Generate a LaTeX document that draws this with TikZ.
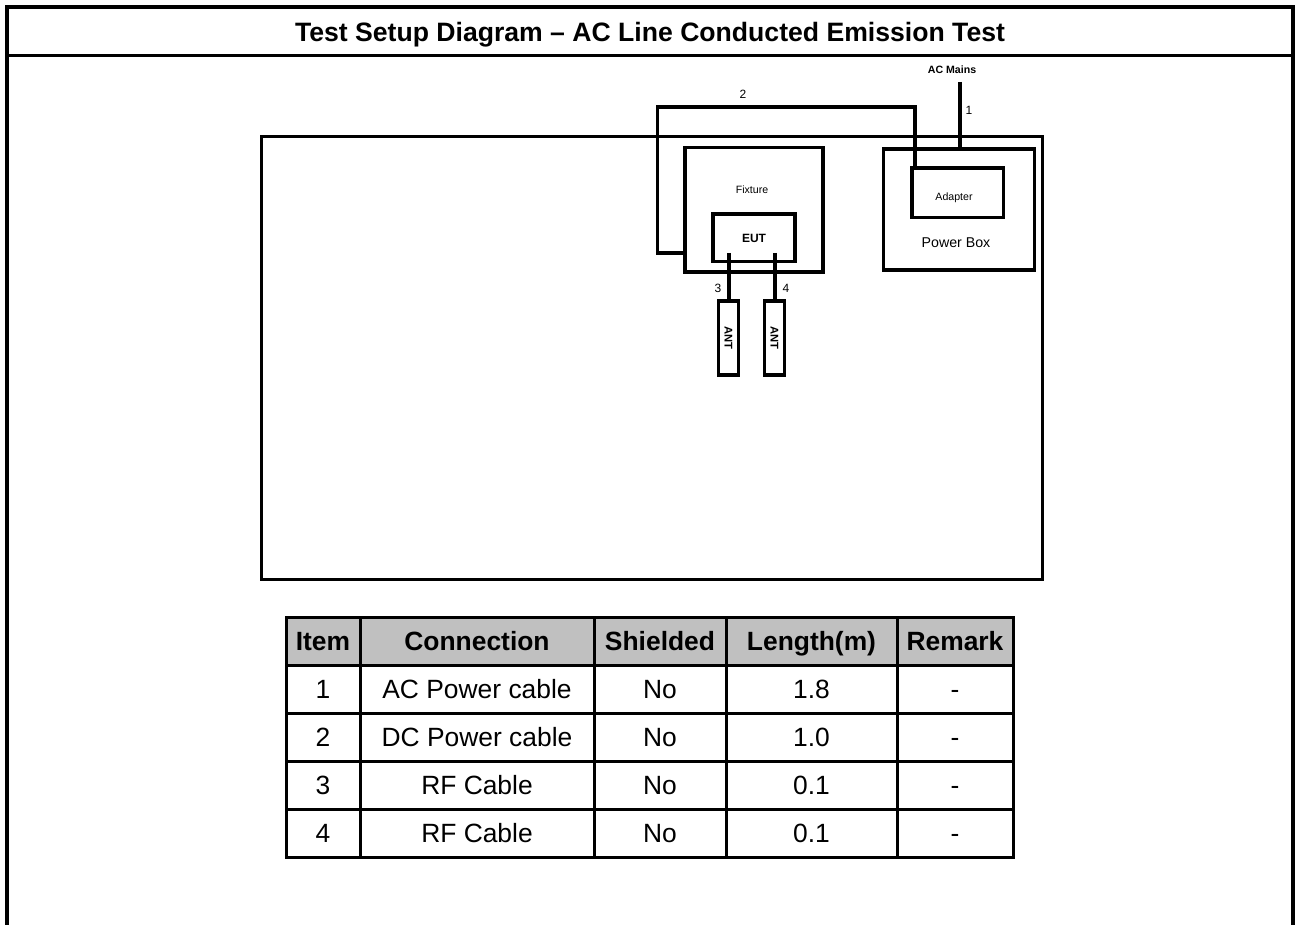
\documentclass[tikz,border=0pt]{standalone}
\usepackage{fontspec}
\setmainfont{Liberation Sans}
\usepackage{tikz}
\usetikzlibrary{calc}
\definecolor{hdrgray}{RGB}{192,192,192}

\begin{document}
\begin{tikzpicture}[x=0.5pt, y=-0.5pt,
 frame/.style={line width=2pt, line cap=rect},
 box/.style={draw, line width=1.8pt, inner sep=0pt},
 cable/.style={line width=1.8pt},
 grid/.style={line width=1.5pt, line cap=rect},
 lbl/.style={inner sep=0pt, font=\fontsize{5.3}{6}\selectfont},
 num/.style={inner sep=0pt, font=\fontsize{6}{7}\selectfont},
 cell/.style={inner sep=0pt, anchor=base, font=\fontsize{13.2}{15}\selectfont},
 head/.style={cell, font=\fontsize{13.2}{15}\selectfont\bfseries}]
 \useasboundingbox (0,0) rectangle (1295,925);

 % outer frame and title
 \draw[frame] (7,925) -- (7,7) -- (1292.5,7) -- (1292.5,925);
 \draw[line width=1.5pt] (7,55.5) -- (1292.5,55.5);
 \node[inner sep=0pt, anchor=base, font=\fontsize{13.3}{16}\selectfont\bfseries] (title) at (650,41.5)
  {Test Setup Diagram – AC Line Conducted Emission Test};

 % bench and equipment
 \node[box, minimum width=390.5pt, minimum height=221.5pt] (bench) at (652,358) {};
 \node[box, minimum width=69pt, minimum height=62.3pt] (fixture) at (754,210) {};
 \node[lbl] (fixlbl) at (752,190) {Fixture};
 \node[box, minimum width=40.8pt, minimum height=23.7pt, font=\fontsize{6}{7}\selectfont\bfseries] (eut) at (754,238) {EUT};
 \node[box, minimum width=75.5pt, minimum height=60.5pt] (pbox) at (958.8,209.5) {};
 \node[inner sep=0pt, font=\fontsize{7.1}{8}\selectfont] (pboxlbl) at (956,243) {Power Box};
 \node[box, minimum width=45.8pt, minimum height=24.7pt] (adapter) at (957.5,193) {};
 \node[lbl] (adlbl) at (954,198) {Adapter};
 \node[box, minimum width=10pt, minimum height=37pt] (ant3) at (728.5,338) {};
 \node[box, minimum width=10pt, minimum height=37pt] (ant4) at (774.5,338) {};
 \node[rotate=-90, inner sep=0pt, font=\fontsize{5.6}{6}\selectfont\bfseries] at (ant3) {ANT};
 \node[rotate=-90, inner sep=0pt, font=\fontsize{5.6}{6}\selectfont\bfseries] at (ant4) {ANT};

 % cables
 \node[lbl, font=\fontsize{5.3}{6}\selectfont\bfseries] (mains) at (952,70) {AC Mains};
 \coordinate (plug) at (960,82);
 \coordinate (dcin) at (685,253);
 \coordinate (dcout) at (915,168);
 \coordinate (rf3) at (729,253);
 \coordinate (rf4) at (775,253);
 \draw[cable] (plug) -- (plug |- pbox.north);
 \draw[cable] (dcin) -| (657.5,107) -| (dcout);
 \draw[cable] (rf3) -- (rf3 |- ant3.north);
 \draw[cable] (rf4) -- (rf4 |- ant4.north);
 \node[num] (n1) at (969,110) {1};
 \node[num] (n2) at (743,94) {2};
 \node[num] (n3) at (718,288) {3};
 \node[num] (n4) at (786,288) {4};

 % cable table
 \fill[hdrgray] (286,617) rectangle (1013,665);
 \foreach \y in {617,665,713,761,809,857}
  \draw[grid] (286,\y) -- (1013,\y);
 \foreach \x in {286,360,594,726,897,1013}
  \draw[grid] (\x,617) -- (\x,857);
 \foreach \xc/\txt [count=\c] in {323/Item,477/Connection,660/Shielded,811.5/Length(m),955/Remark}
  \node[head] (h\c) at (\xc,650.5) {\txt};
 \foreach \yc/\n/\conn/\len [count=\r] in {698.5/1/AC Power cable/1.8,746.5/2/DC Power cable/1.0,794.5/3/RF Cable/0.1,842.5/4/RF Cable/0.1} {
  \node[cell] (i\r) at (323,\yc) {\n};
  \node[cell] (c\r) at (477,\yc) {\conn};
  \node[cell] (s\r) at (660,\yc) {No};
  \node[cell] (l\r) at (811.5,\yc) {\len};
  \node[cell] (r\r) at (955,\yc) {-};
 }
\end{tikzpicture}
\end{document}
